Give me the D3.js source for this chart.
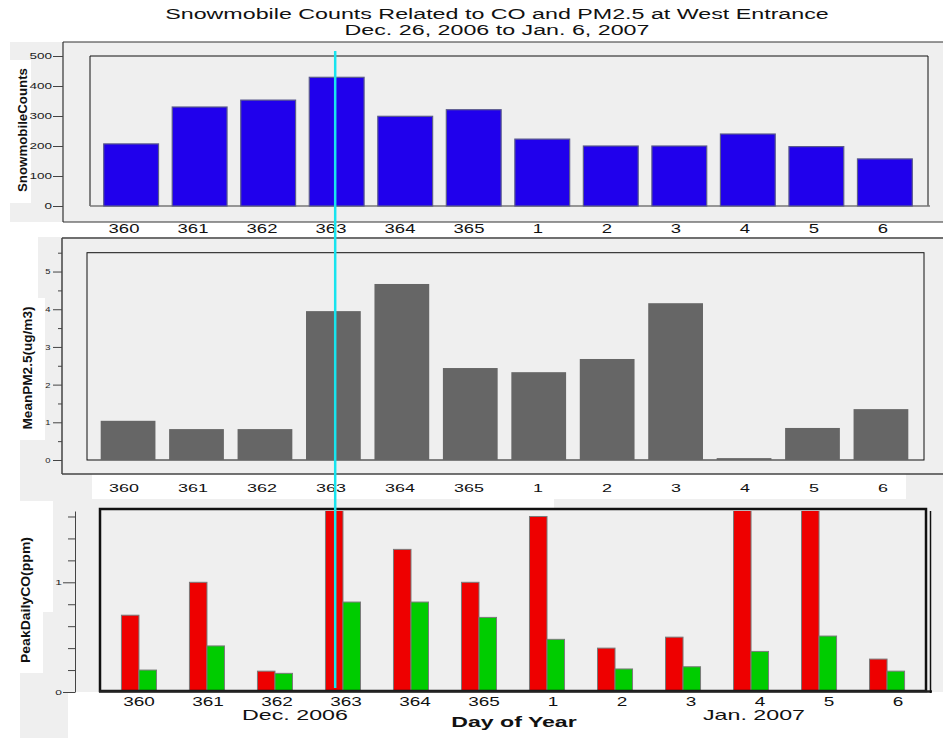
<!DOCTYPE html>
<html>
<head>
<meta charset="utf-8">
<script src="https://cdn.jsdelivr.net/npm/d3@7"></script>
<style>
  html, body { margin: 0; padding: 0; background: #ffffff; }
  svg { display: block; font-family: "Liberation Sans", Arial, sans-serif; }
</style>
</head>
<body>
<svg id="chart" width="943" height="738"></svg>
<script>
// ---------------- data ----------------
const days = ["360", "361", "362", "363", "364", "365", "1", "2", "3", "4", "5", "6"];
const snowmobileCounts = [207, 330, 353, 429, 299, 321, 223, 200, 200, 240, 198, 157];
const meanPM25 = [1.04, 0.82, 0.82, 3.95, 4.67, 2.44, 2.33, 2.68, 4.16, 0.05, 0.85, 1.35];
const peakCO = [0.70, 1.00, 0.19, 1.80, 1.30, 1.00, 1.60, 0.40, 0.50, 1.80, 1.80, 0.30];
const secondCO = [0.20, 0.42, 0.17, 0.82, 0.82, 0.68, 0.48, 0.21, 0.23, 0.37, 0.51, 0.19];
const countTicks = [0, 100, 200, 300, 400, 500];
const pmTicks = [0, 1, 2, 3, 4, 5];
const coTicks = [0, 1];
const markerDay = "363";
const titleLines = ["Snowmobile Counts Related to CO and PM2.5 at West Entrance", "Dec. 26, 2006 to Jan. 6, 2007"];
const monthLabels = [{ text: "Dec. 2006", day: "362", dx: 18 }, { text: "Jan. 2007", day: "3", dx: 63 }];

const svg = d3.select("#chart");
const GRAY = "#efefef";
const intFmt = d3.format("d");

function stext(parent, x, y, text, size, sx, anchor, weight) {
  return parent.append("text")
    .attr("transform", `translate(${x},${y}) scale(${sx},1)`)
    .attr("text-anchor", anchor || "middle")
    .attr("font-size", size)
    .attr("font-weight", weight || "normal")
    .attr("fill", "#111")
    .text(text);
}
function rect(x, y, w, h, fill) {
  svg.append("rect").attr("x", x).attr("y", y).attr("width", w).attr("height", h).attr("fill", fill);
}
function line(x1, y1, x2, y2, stroke, w) {
  svg.append("line").attr("x1", x1).attr("y1", y1).attr("x2", x2).attr("y2", y2)
    .attr("stroke", stroke).attr("stroke-width", w);
}

// ---------------- backgrounds ----------------
rect(10, 42, 933, 180, GRAY);
rect(0, 60, 31, 143, "#fff");
rect(38, 237, 905, 263, GRAY);
rect(20, 440, 42, 60, GRAY);
rect(8, 298, 37, 142, "#fff");
rect(20, 499, 923, 193, GRAY);
rect(20, 692, 48, 46, GRAY);
rect(0, 501, 53, 111, "#fff");
rect(0, 612, 43, 61, "#fff");
rect(92, 474, 814, 25, "#fff");
rect(460, 474, 94, 34, "#fff");

// ---------------- title ----------------
titleLines.forEach((t, i) => stext(svg, 497, 19 + i * 16, t, 15.5, 1.5, "middle"));

// ---------------- scales ----------------
const xTop = d3.scaleBand().domain(days).range([90, 926]).paddingInner(0.2).paddingOuter(0.2);
const xMid = d3.scaleBand().domain(days).range([87, 922]).paddingInner(0.2).paddingOuter(0.2);
const xBot = d3.scaleBand().domain(days).range([99, 927]).paddingInner(0.485).paddingOuter(0.33);
const xSub = d3.scaleBand().domain(["peak", "second"]).range([0, xBot.bandwidth()]).padding(0);
const xLabTop = d3.scaleBand().domain(days).range([89.5, 917.5]);
const xLabBot = d3.scaleBand().domain(days).range([104.5, 932.5]);
const cTop = d => xLabTop(d) + xLabTop.bandwidth() / 2;
const cBot = d => xLabBot(d) + xLabBot.bandwidth() / 2;

const yCnt = d3.scaleLinear().domain([0, 500]).range([206, 56]);
const yPM = d3.scaleLinear().domain([0, 5.5]).range([460, 252.7]);
const yCO = d3.scaleLinear().domain([0, 1.65]).range([692, 511]);

// ---------------- top panel ----------------
line(63, 42, 943, 42, "#333", 1.2);
line(63, 42, 63, 222, "#333", 1.2);
line(63, 222, 943, 222, "#333", 1.2);
svg.append("path").attr("d", `M90,206 V56 H928 V206`).attr("fill", "none").attr("stroke", "#111").attr("stroke-width", 1);
line(90, 206, 930, 206, "#777", 1.5);

svg.append("g").selectAll("rect").data(days).join("rect")
  .attr("x", d => xTop(d))
  .attr("y", (d, i) => yCnt(snowmobileCounts[i]))
  .attr("width", xTop.bandwidth())
  .attr("height", (d, i) => yCnt(0) - yCnt(snowmobileCounts[i]))
  .attr("fill", "#2000ec")
  .attr("stroke", "#5b5b8c").attr("stroke-width", 1.2);

const axTop = svg.append("g").attr("transform", "translate(63,0)")
  .call(d3.axisLeft(yCnt).tickValues(countTicks).tickFormat(intFmt).tickSize(10).tickPadding(1).tickSizeOuter(0));
axTop.select(".domain").remove();
axTop.selectAll(".tick line").attr("stroke", "#444");
axTop.selectAll(".tick text").attr("font-size", 9).attr("fill", "#222")
  .attr("font-family", "Liberation Sans, Arial, sans-serif")
  .attr("x", -11 / 1.5).attr("transform", "scale(1.5,1)");

const labTop = svg.append("g");
days.forEach(d => stext(labTop, cTop(d), 233, d, 12.5, 1.48, "middle"));

svg.append("text")
  .attr("transform", "translate(27,130) rotate(-90)")
  .attr("text-anchor", "middle").attr("font-size", 13).attr("font-weight", "bold")
  .attr("textLength", 124).attr("lengthAdjust", "spacingAndGlyphs")
  .attr("fill", "#111").text("SnowmobileCounts");

// ---------------- middle panel ----------------
line(62, 238, 943, 238, "#444", 1.5);
line(62, 238, 62, 474, "#444", 1.5);
line(62, 474, 943, 474, "#444", 1.5);
svg.append("rect").attr("x", 87).attr("y", yPM(5.5)).attr("width", 837).attr("height", yPM(0) - yPM(5.5))
  .attr("fill", "none").attr("stroke", "#111").attr("stroke-width", 1);

svg.append("g").selectAll("rect").data(days).join("rect")
  .attr("x", d => xMid(d))
  .attr("y", (d, i) => yPM(meanPM25[i]))
  .attr("width", xMid.bandwidth())
  .attr("height", (d, i) => yPM(0) - yPM(meanPM25[i]))
  .attr("fill", "#666666");

const axMidMinor = svg.append("g").attr("transform", "translate(62,0)")
  .call(d3.axisLeft(yPM).tickValues(d3.range(0.5, 5.6, 1)).tickSize(4).tickFormat(""));
axMidMinor.select(".domain").remove();
axMidMinor.selectAll(".tick line").attr("stroke", "#444");
const axMid = svg.append("g").attr("transform", "translate(62,0)")
  .call(d3.axisLeft(yPM).tickValues(pmTicks).tickFormat(intFmt).tickSize(9).tickPadding(2));
axMid.select(".domain").remove();
axMid.selectAll(".tick line").attr("stroke", "#444");
axMid.selectAll(".tick text").attr("font-size", 7.5).attr("fill", "#222")
  .attr("font-family", "Liberation Sans, Arial, sans-serif")
  .attr("x", -11.5 / 1.25).attr("transform", "scale(1.25,1)");

const labMid = svg.append("g");
days.forEach(d => stext(labMid, cTop(d), 492, d, 11, 1.63, "middle"));

svg.append("text")
  .attr("transform", "translate(32,368) rotate(-90)")
  .attr("text-anchor", "middle").attr("font-size", 13).attr("font-weight", "bold")
  .attr("textLength", 123).attr("lengthAdjust", "spacingAndGlyphs")
  .attr("fill", "#111").text("MeanPM2.5(ug/m3)");

// ---------------- bottom panel ----------------
svg.append("clipPath").attr("id", "coClip").append("rect")
  .attr("x", 99).attr("y", yCO(1.65)).attr("width", 828).attr("height", yCO(0) - yCO(1.65));

const groups = svg.append("g").attr("clip-path", "url(#coClip)")
  .selectAll("g").data(days).join("g")
  .attr("transform", d => `translate(${xBot(d)},0)`);
groups.append("rect")
  .attr("x", xSub("peak")).attr("width", xSub.bandwidth())
  .attr("y", (d, i) => yCO(peakCO[i])).attr("height", (d, i) => yCO(0) - yCO(peakCO[i]))
  .attr("fill", "#ee0000").attr("stroke", "#7a7a7a").attr("stroke-width", 1);
groups.append("rect")
  .attr("x", xSub("second")).attr("width", xSub.bandwidth())
  .attr("y", (d, i) => yCO(secondCO[i])).attr("height", (d, i) => yCO(0) - yCO(secondCO[i]))
  .attr("fill", "#00cc00").attr("stroke", "#7a7a7a").attr("stroke-width", 1);

svg.append("rect").attr("x", 100).attr("y", 509).attr("width", 826).attr("height", 182)
  .attr("fill", "none").attr("stroke", "#111").attr("stroke-width", 2.5);
line(99, 691.5, 932, 691.5, "#222", 2.5);
line(930.5, 511, 930.5, 693, "#111", 1.5);

const axBotMinor = svg.append("g").attr("transform", "translate(75,0)")
  .call(d3.axisLeft(yCO).tickValues(d3.range(0.2, 1.61, 0.2).filter(v => Math.abs(v - 1) > 0.01)).tickSize(7).tickFormat("").tickSizeOuter(0));
axBotMinor.select(".domain").remove();
axBotMinor.selectAll(".tick line").attr("stroke", "#444");
const axBot = svg.append("g").attr("transform", "translate(75,0)")
  .call(d3.axisLeft(yCO).tickValues(coTicks).tickFormat(intFmt).tickSize(12).tickPadding(1).tickSizeOuter(0));
axBot.select(".domain").attr("stroke", "#444");
axBot.selectAll(".tick line").attr("stroke", "#444");
axBot.selectAll(".tick text").attr("font-size", 7.5).attr("fill", "#222")
  .attr("font-family", "Liberation Sans, Arial, sans-serif")
  .attr("x", -13 / 1.6).attr("transform", "scale(1.6,1)");

const labBot = svg.append("g");
days.forEach(d => stext(labBot, cBot(d), 706, d, 12, 1.58, "middle"));
monthLabels.forEach(m => stext(svg, cBot(m.day) + m.dx, 720, m.text, 14, 1.66, "middle"));
stext(svg, 514, 727, "Day of Year", 15, 1.54, "middle", "bold");

svg.append("text")
  .attr("transform", "translate(30,600) rotate(-90)")
  .attr("text-anchor", "middle").attr("font-size", 13).attr("font-weight", "bold")
  .attr("textLength", 126).attr("lengthAdjust", "spacingAndGlyphs")
  .attr("fill", "#111").text("PeakDailyCO(ppm)");

// ---------------- marker line ----------------
const mx = xTop(markerDay) + xTop.bandwidth() / 2 - 1.5;
line(mx, 51, mx, 688, "#18e4ee", 2.5);
</script>
</body>
</html>
